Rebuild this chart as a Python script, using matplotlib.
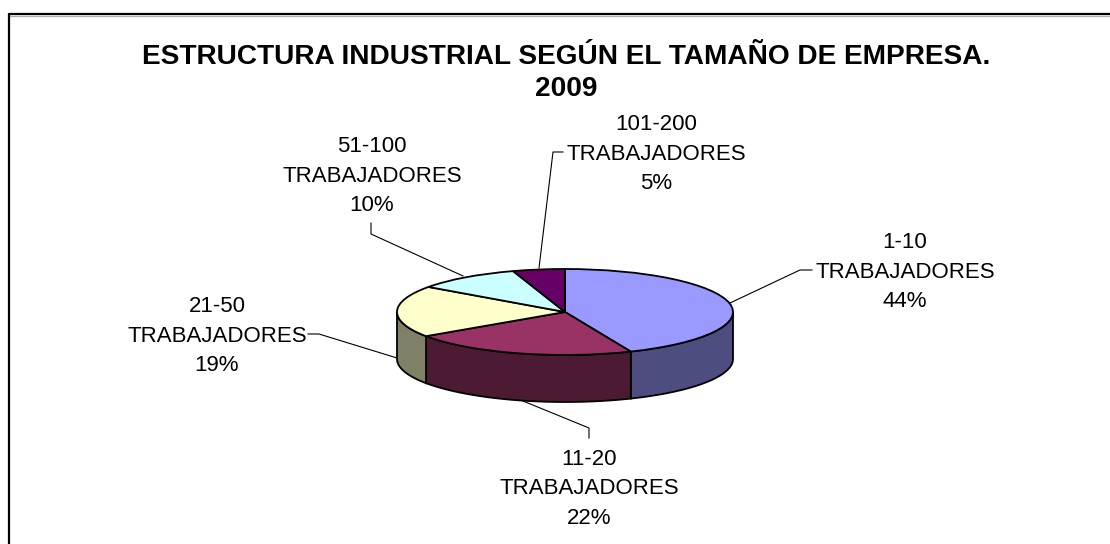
import numpy as np
import matplotlib.pyplot as plt
from matplotlib.patches import Polygon

plt.rcParams["font.family"] = ["Liberation Sans", "DejaVu Sans"]

# valores (las etiquetas redondean)
categories = ["1-10", "11-20", "21-50", "51-100", "101-200"]
shares = [43.6, 21.9, 19.4, 10.1, 5.0]
top_colors = ["#9999FF", "#993366", "#FFFFCC", "#CCFFFF", "#660066"]
side_colors = ["#4D4D80", "#4D1A33", "#808066", "#668080", "#330033"]
title = "ESTRUCTURA INDUSTRIAL SEGÚN EL TAMAÑO DE EMPRESA.\n2009"

W, H = 1110, 544
CX, CY, RX, RY, DEPTH = 565, 312, 168, 43, 47
TITLE_SIZE = 20.15
LABEL_SIZE = 16

# centro de cada etiqueta en pixeles
label_pos = [(905, 272), (589, 489), (217, 336), (372, 176), (656, 154)]
leaders = [
    [(812, 270), (800, 270), (730, 303)],
    [(589, 438), (589, 428), (523, 401)],
    [(308, 334), (319, 334), (397, 358)],
    [(371, 223), (371, 234), (463, 276)],
    [(563, 152), (553, 152), (539, 268)],
]


def main():
    fig = plt.figure(figsize=(W / 100, H / 100), dpi=100)

    page = fig.add_axes([0, 0, 1, 1])
    page.set_xlim(0, W)
    page.set_ylim(H, 0)
    page.axis("off")

    # marco: solo arriba e izquierda quedan dentro de la imagen
    page.plot([9, W], [15.6, 15.6], color="#b0b0b0", lw=0.9, solid_capstyle="butt")
    page.plot([9, W], [14, 14], color="black", lw=1.6, solid_capstyle="butt")
    page.plot([9, 9], [13, H], color="black", lw=1.6, solid_capstyle="butt")

    page.text(W / 2 + 11, 73, title, ha="center", va="center", fontsize=TITLE_SIZE,
              weight="bold", linespacing=1.27)

    for cat, share, (x, y), pts in zip(categories, shares, label_pos, leaders):
        page.text(x, y, f"{cat}\nTRABAJADORES\n{share:.0f}%", ha="center", va="center",
                  fontsize=LABEL_SIZE, linespacing=1.54)
        xs, ys = zip(*pts)
        page.plot(xs, ys, color="black", lw=0.8)

    # torta en ejes propios, estirada a la elipse
    d = DEPTH / RY
    ax = fig.add_axes([(CX - RX) / W, 1 - (CY + RY + DEPTH) / H, 2 * RX / W, (2 * RY + DEPTH) / H])
    ax.patch.set_alpha(0)
    ax.pie(shares, colors=top_colors, startangle=90, counterclock=False,
           wedgeprops={"edgecolor": "black", "linewidth": 1.3, "zorder": 3})
    ax.set_aspect("auto")
    ax.set_xlim(-1, 1)
    ax.set_ylim(-1 - d, 1)

    # paredes laterales: parte visible de cada sector
    edges = np.cumsum([0] + shares) / sum(shares) * 360
    for start, end, color in zip(edges[:-1], edges[1:], side_colors):
        a, b = max(start, 90), min(end, 270)
        if a >= b:
            continue
        t = np.radians(np.linspace(a, b, 60))
        x, y = np.sin(t), np.cos(t)
        pts = np.r_[np.c_[x, y], np.c_[x, y - d][::-1]]
        ax.add_patch(Polygon(pts, closed=True, facecolor=color, edgecolor="black",
                             linewidth=1.3, zorder=2, clip_on=False))

    fig.savefig("out.png", dpi=100)
    plt.close(fig)


if __name__ == "__main__":
    main()
